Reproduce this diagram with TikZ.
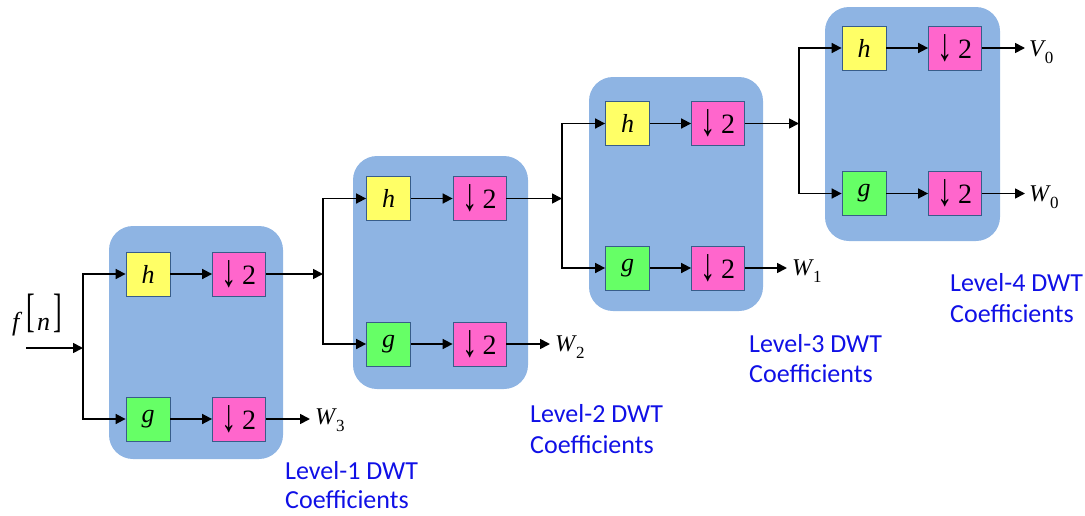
\documentclass[tikz,border=0pt]{standalone}
\usepackage{fontspec}
\setmainfont{Liberation Serif}
\newfontfamily\tnr{Liberation Serif}
\newfontfamily\calib{Carlito}
\usetikzlibrary{arrows.meta}
\definecolor{stagebg}{RGB}{142,180,227}
\definecolor{hyel}{RGB}{255,255,102}
\definecolor{ggrn}{RGB}{102,255,102}
\definecolor{dpink}{RGB}{255,102,204}
\definecolor{bord}{RGB}{56,93,138}
\definecolor{labblue}{RGB}{16,16,230}
\newcommand{\dnarrow}{\raisebox{-2pt}{\scalebox{1.1}[1.65]{↓}}}
\newcommand{\tallbr}[1]{\raisebox{4pt}{\scalebox{1}[1.8]{\upshape #1}}}
\newcommand{\subdig}[1]{\raisebox{-7pt}{\upshape\fontsize{17}{17}\selectfont #1}}
\begin{document}
\begin{tikzpicture}[x=1pt,y=-1pt,
  stage/.style={fill=stagebg, rounded corners=24pt, inner sep=0pt},
  filt/.style={draw=bord, line width=0.8pt, minimum width=44pt, minimum height=44pt, inner sep=0pt, font=\tnr\fontsize{26}{26}\selectfont\itshape},
  hbox/.style={filt, fill=hyel},
  gbox/.style={filt, fill=ggrn},
  dbox/.style={draw=bord, line width=0.8pt, fill=dpink, minimum width=53pt, minimum height=44pt, inner sep=0pt, font=\tnr\fontsize{28}{28}\selectfont},
  arr/.style={line width=1.7pt, -{Triangle[length=10pt,width=10pt]}},
  outlab/.style={anchor=base west, inner sep=0pt, font=\tnr\fontsize{24}{24}\selectfont},
  lvl/.style={anchor=base west, inner sep=0pt, text=labblue, font=\calib\fontsize{26}{26}\selectfont}
]
\useasboundingbox (0,0) rectangle (1085,515);

% stage backgrounds
\node[stage, minimum width=174pt, minimum height=233pt] (bg1) at (196,342.5) {};
\node[stage, minimum width=175pt, minimum height=233pt] (bg2) at (440.5,272.5) {};
\node[stage, minimum width=174pt, minimum height=234pt] (bg3) at (676,194) {};
\node[stage, minimum width=175pt, minimum height=234pt] (bg4) at (912.5,124) {};

% stage 1
\node[hbox] (h1) at (148,274) {h};
\node[dbox] (d1t) at (239,274) {\dnarrow\,2};
\node[gbox] (g1) at (148,419) {g};
\node[dbox] (d1b) at (239,419) {\dnarrow\,2};
% stage 2
\node[hbox] (h2) at (388.5,198.5) {h};
\node[dbox] (d2t) at (479.5,198.5) {\dnarrow\,2};
\node[gbox] (g2) at (388.5,344) {g};
\node[dbox] (d2b) at (479.5,344) {\dnarrow\,2};
% stage 3
\node[hbox] (h3) at (627.5,123.5) {h};
\node[dbox] (d3t) at (718,123.5) {\dnarrow\,2};
\node[gbox] (g3) at (627.5,268) {g};
\node[dbox] (d3b) at (718,268) {\dnarrow\,2};
% stage 4
\node[hbox] (h4) at (864,48) {h};
\node[dbox] (d4t) at (955,48) {\dnarrow\,2};
\node[gbox] (g4) at (864,193.5) {g};
\node[dbox] (d4b) at (955,193.5) {\dnarrow\,2};

% split points and free ends
\coordinate (in) at (26,348);
\coordinate (s1) at (83,348);
\coordinate (s2) at (323,274);
\coordinate (s3) at (562,198.5);
\coordinate (s4) at (799,123.5);
\coordinate (e3) at (310,419);
\coordinate (e2) at (550,344);
\coordinate (e1) at (787,268);
\coordinate (ev) at (1025,48);
\coordinate (e0) at (1025,193.5);

% connectors
\draw[arr] (in) -- (s1);
\draw[arr] (s1) |- (h1);
\draw[arr] (s1) |- (g1);
\draw[arr] (h1) -- (d1t);
\draw[arr] (g1) -- (d1b);
\draw[arr] (d1t) -- (s2);
\draw[arr] (d1b) -- (e3);

\draw[arr] (s2) |- (h2);
\draw[arr] (s2) |- (g2);
\draw[arr] (h2) -- (d2t);
\draw[arr] (g2) -- (d2b);
\draw[arr] (d2t) -- (s3);
\draw[arr] (d2b) -- (e2);

\draw[arr] (s3) |- (h3);
\draw[arr] (s3) |- (g3);
\draw[arr] (h3) -- (d3t);
\draw[arr] (g3) -- (d3b);
\draw[arr] (d3t) -- (s4);
\draw[arr] (d3b) -- (e1);

\draw[arr] (s4) |- (h4);
\draw[arr] (s4) |- (g4);
\draw[arr] (h4) -- (d4t);
\draw[arr] (g4) -- (d4b);
\draw[arr] (d4t) -- (ev);
\draw[arr] (d4b) -- (e0);

% input label
\node[anchor=base west, inner sep=0pt, font=\tnr\fontsize{26}{26}\selectfont] (fn) at (12,330)
  {\itshape f\hspace{7pt}\tallbr{[}\hspace{2pt}n\hspace{3pt}\tallbr{]}};

% output labels
\node[outlab] (w3) at (315,424) {\itshape W\hspace{1pt}\subdig{3}};
\node[outlab] (w2) at (555,351) {\itshape W\hspace{1pt}\subdig{2}};
\node[outlab] (w1) at (792,275) {\itshape W\hspace{1pt}\subdig{1}};
\node[outlab] (v0) at (1029,56) {\itshape V\hspace{1pt}\subdig{0}};
\node[outlab] (w0) at (1029,201) {\itshape W\hspace{1pt}\subdig{0}};

% level labels
\node[lvl] (l1a) at (285,479) {Level-1 DWT};
\node[lvl] (l1b) at (285,508) {Coefficients};
\node[lvl] (l2a) at (530,422) {Level-2 DWT};
\node[lvl] (l2b) at (530,453) {Coefficients};
\node[lvl] (l3a) at (749,352) {Level-3 DWT};
\node[lvl] (l3b) at (749,382) {Coefficients};
\node[lvl] (l4a) at (950,291) {Level-4 DWT};
\node[lvl] (l4b) at (950,322) {Coefficients};
\end{tikzpicture}
\end{document}
